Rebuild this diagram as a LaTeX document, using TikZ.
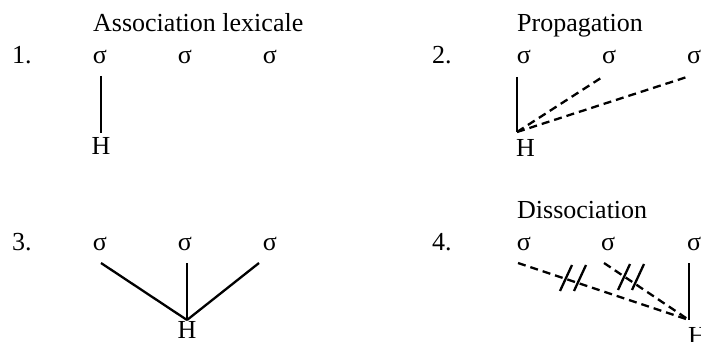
\documentclass[tikz,border=0pt]{standalone}
\usepackage{fontspec}
\setmainfont{Liberation Serif}
\begin{document}
\begin{tikzpicture}[x=1pt,y=-1pt,
  txt/.style={inner sep=0pt,font=\fontsize{26}{30}\selectfont},
  lbl/.style={txt,anchor=base west},
  syl/.style={txt,anchor=base},
  solidln/.style={line width=2.3pt},
  dashln/.style={line width=2.3pt,dash pattern=on 8pt off 5pt},
  slash/.style={line width=2.3pt}]
\useasboundingbox (0,0) rectangle (701,342);
% ---------- Panel 1
\node[lbl] (t1) at (93,32) {Association lexicale};
\node[lbl] (n1) at (12,64) {1.};
\node[syl] (s11) at (100,64) {σ};
\node[syl] (s12) at (185,64) {σ};
\node[syl] (s13) at (270,64) {σ};
\node[syl] (h1) at (101,154) {H};
\coordinate (a11) at (101,76);
\coordinate (b1) at (101,133);
\draw[solidln] (a11) -- (b1);
% ---------- Panel 2
\node[lbl] (t2) at (517,32) {Propagation};
\node[lbl] (n2) at (432,64) {2.};
\node[syl] (s21) at (524,64) {σ};
\node[syl] (s22) at (609,64) {σ};
\node[syl] (s23) at (694,64) {σ};
\node[lbl] (h2) at (516,156) {H};
\coordinate (a21) at (517,77);
\coordinate (a22) at (604,76);
\coordinate (a23) at (690,76);
\coordinate (b2) at (517,132);
\draw[solidln] (a21) -- (b2);
\draw[dashln] (b2) -- (a22);
\draw[dashln] (b2) -- (a23);
% ---------- Panel 3
\node[lbl] (n3) at (12,250) {3.};
\node[syl] (s31) at (100,250) {σ};
\node[syl] (s32) at (185,250) {σ};
\node[syl] (s33) at (270,250) {σ};
\node[syl] (h3) at (187,338.5) {H};
\coordinate (a31) at (101,263);
\coordinate (a32) at (187,263);
\coordinate (a33) at (259,263);
\coordinate (b3) at (187,320);
\draw[solidln] (a31) -- (b3);
\draw[solidln] (a32) -- (b3);
\draw[solidln] (a33) -- (b3);
% ---------- Panel 4
\node[lbl] (t4) at (517,218) {Dissociation};
\node[lbl] (n4) at (432,250) {4.};
\node[syl] (s41) at (524,250) {σ};
\node[syl] (s42) at (608,250) {σ};
\node[syl] (s43) at (694,250) {σ};
\node[lbl] (h4) at (688,344) {H};
\coordinate (a41) at (518,263);
\coordinate (a42) at (604,263);
\coordinate (a43) at (689,263);
\coordinate (b4) at (689,320);
\draw[solidln] (a43) -- (b4);
\draw[dashln] (a41) -- (b4);
\draw[dashln] (a42) -- (b4);
% double slashes (dissociation marks)
\draw[slash] (560,291) -- (572,265);
\draw[slash] (574,291) -- (586,265);
\draw[slash] (618,290) -- (630,264);
\draw[slash] (632,290) -- (644,264);
\end{tikzpicture}
\end{document}
